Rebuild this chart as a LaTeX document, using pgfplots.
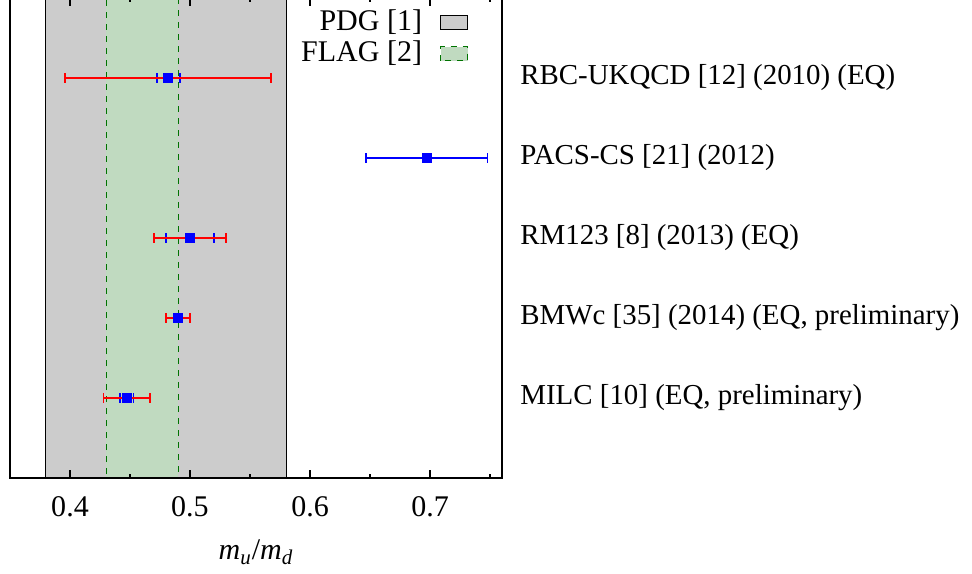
\documentclass[border=0pt]{standalone}
\usepackage{fontspec}
\setmainfont{Liberation Serif}
\usepackage{pgfplots}
\pgfplotsset{compat=1.18}
\definecolor{pdggray}{RGB}{204,204,204}
\definecolor{flaggreen}{RGB}{192,218,192}
\definecolor{flagline}{RGB}{0,115,0}
\pgfplotsset{boxlegend/.style={legend image code/.code={\draw[##1] (0pt,-3.5pt) rectangle (13.5pt,3.5pt);}}}

\begin{document}
\fontsize{15}{18}\selectfont
\begin{tikzpicture}
\begin{axis}[
    name=ax,
    scale only axis, width=246pt, height=240pt,
    xmin=0.35, xmax=0.76, ymin=0, ymax=6,
    axis on top,
    axis line style={line width=1.2pt},
    xtick={0.4,0.5,0.6,0.7}, minor xtick={0.45,0.55,0.65,0.75},
    xticklabels={0.4,0.5,0.6,0.7},
    major tick length=4pt, minor tick length=2pt,
    tick style={black, line width=0.8pt},
    ytick={1,2,3,4,5}, yticklabel pos=right,
    y tick style={draw=none},
    yticklabels={{MILC [10] (EQ, preliminary)},{BMWc [35] (2014) (EQ, preliminary)},{RM123 [8] (2013) (EQ)},{PACS-CS [21] (2012)},{RBC-UKQCD [12] (2010) (EQ)}},
    y tick label style={anchor=west, xshift=4pt, font=\fontsize{14.45}{17}\selectfont},
    x tick label style={yshift=-4pt},
    /pgf/number format/assume math mode=true,
    xlabel={\textit{m}\textsubscript{\textit{u}}/\textit{m}\textsubscript{\textit{d}}},
    xlabel style={yshift=-1.5pt},
    legend style={draw=none, fill=none, at={(0.944,0.991)}, anchor=north east,
        nodes={inner sep=1.5pt}, row sep=0pt, column sep=7.5pt},
    legend cell align=right, legend plot pos=right,
]
% PDG band
\addplot[fill=pdggray, draw=black, line width=0.5pt, boxlegend]
    coordinates {(0.38,-1) (0.38,7) (0.58,7) (0.58,-1)} -- cycle;
\addlegendentry{PDG [1]}
% FLAG band
\addplot[fill=flaggreen, draw=flagline, dashed, line width=0.5pt, boxlegend]
    coordinates {(0.43,-1) (0.43,7) (0.49,7) (0.49,-1)} -- cycle;
\addlegendentry{FLAG [2]}

% statistical errors (blue)
\addplot[draw=none, mark=none, forget plot,
    error bars/.cd, x dir=both, x explicit,
    error bar style={draw=blue, solid, line width=0.9pt},
    error mark options={rotate=90, mark size=2.4pt, blue, solid, line width=0.9pt}]
    coordinates {
    (0.4818,5) +- (0.0096,0)
    (0.6972,4) +- (0.0507,0)
    (0.5000,3) +- (0.0200,0)
    (0.4900,2) +- (0.0030,0)
    (0.4474,1) +- (0.0055,0)
    };
% total errors (red)
\addplot[draw=none, mark=none, forget plot,
    error bars/.cd, x dir=both, x explicit,
    error bar style={draw=red, solid, line width=0.9pt},
    error mark options={rotate=90, mark size=2.4pt, red, solid, line width=0.9pt}]
    coordinates {
    (0.4818,5) +- (0.0860,0)
    (0.5000,3) +- (0.0300,0)
    (0.4900,2) +- (0.0100,0)
    (0.4474,1) +- (0.0195,0)
    };
% central values
\addplot[only marks, mark=square*, mark size=2.25pt, blue, forget plot]
    coordinates {(0.4818,5) (0.6972,4) (0.5000,3) (0.4900,2) (0.4474,1)};
\end{axis}
\pgfresetboundingbox
\useasboundingbox ([xshift=-5pt, yshift=-47.5pt]ax.south west)
    rectangle ([xshift=235pt, yshift=-1pt]ax.north east);
\end{tikzpicture}
\end{document}
